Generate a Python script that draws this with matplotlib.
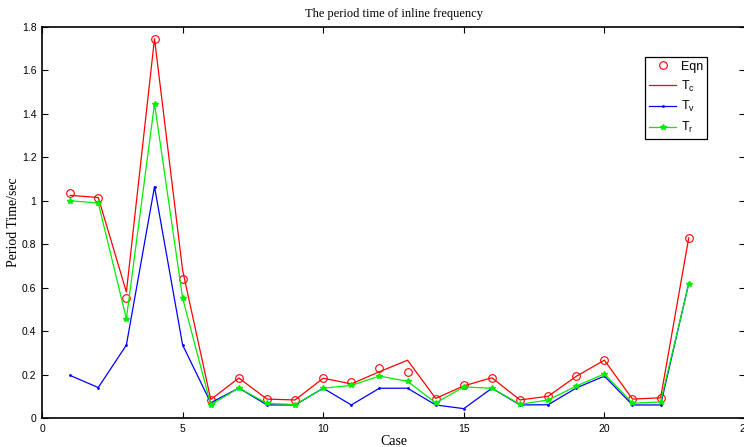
import matplotlib
matplotlib.use("Agg")
import matplotlib.pyplot as plt

cases = list(range(1, 24))
eqn = [1.036, 1.013, 0.554, 1.746, 0.638, 0.081, 0.184, 0.087, 0.083, 0.183,
       0.166, 0.232, 0.210, 0.089, 0.153, 0.185, 0.083, 0.100, 0.192, 0.266,
       0.087, 0.093, 0.829]
t_c = [1.025, 1.015, 0.580, 1.746, 0.680, 0.085, 0.184, 0.087, 0.083, 0.183,
       0.157, 0.213, 0.266, 0.090, 0.148, 0.185, 0.083, 0.100, 0.192, 0.266,
       0.087, 0.093, 0.829]
t_v = [0.196, 0.140, 0.336, 1.065, 0.336, 0.070, 0.138, 0.060, 0.060, 0.137,
       0.060, 0.137, 0.137, 0.060, 0.043, 0.137, 0.060, 0.061, 0.138, 0.193,
       0.060, 0.060, 0.620]
t_r = [1.000, 0.990, 0.457, 1.447, 0.552, 0.061, 0.138, 0.067, 0.062, 0.137,
       0.150, 0.193, 0.169, 0.069, 0.143, 0.137, 0.063, 0.083, 0.147, 0.203,
       0.068, 0.074, 0.617]

x_ticks = [0, 5, 10, 15, 20, 25]
y_ticks = [0, 0.2, 0.4, 0.6, 0.8, 1.0, 1.2, 1.4, 1.6, 1.8]
y_tick_labels = ["0", "0.2", "0.4", "0.6", "0.8", "1", "1.2", "1.4", "1.6", "1.8"]

tick_font = "Liberation Sans"
label_font = "Liberation Serif"

fig = plt.figure(figsize=(7.44, 4.47), dpi=100)
ax = fig.add_axes([0.0565, 0.0649, 0.9448, 0.8747])

ax.plot(cases, eqn, linestyle="none", marker="o", markersize=5.5,
        markerfacecolor="none", markeredgecolor="red", markeredgewidth=0.8,
        label="Eqn")
ax.plot(cases, t_c, color="red", linewidth=0.9, label=r"T$_\mathregular{c}$")
ax.plot(cases, t_v, color="blue", linewidth=0.9, marker=".", markersize=2,
        label=r"T$_\mathregular{v}$")
ax.plot(cases, t_r, color="#00ee00", linewidth=0.9, marker="*", markersize=4,
        label=r"T$_\mathregular{r}$")

ax.set_xlim(0, 25)
ax.set_ylim(0, 1.8)
ax.set_xticks(x_ticks)
ax.set_yticks(y_ticks)
ax.set_yticklabels(y_tick_labels)

ax.tick_params(direction="in", length=4, width=0.8, top=True, right=True,
               labelsize=7.5, pad=4)
for lbl in ax.get_xticklabels() + ax.get_yticklabels():
    lbl.set_fontfamily(tick_font)
for side in ["left", "bottom", "top"]:
    ax.spines[side].set_linewidth(1.2)

ax.set_title("The period time of inline frequency", fontsize=9,
             family=label_font, pad=7)
ax.set_xlabel("Case", fontsize=10, family=label_font, labelpad=1)
ax.set_ylabel("Period Time/sec", fontsize=10, family=label_font)
ax.yaxis.set_label_coords(-0.031, 0.5)

leg = ax.legend(loc="upper left", bbox_to_anchor=(0.858, 0.923),
                prop={"family": tick_font, "size": 9}, fancybox=False,
                edgecolor="black", framealpha=1, handlelength=2.2,
                handletextpad=0.4, borderpad=0.3, labelspacing=0.45,
                borderaxespad=0)
leg.get_frame().set_linewidth(0.9)

fig.savefig("out.png", dpi=100)
